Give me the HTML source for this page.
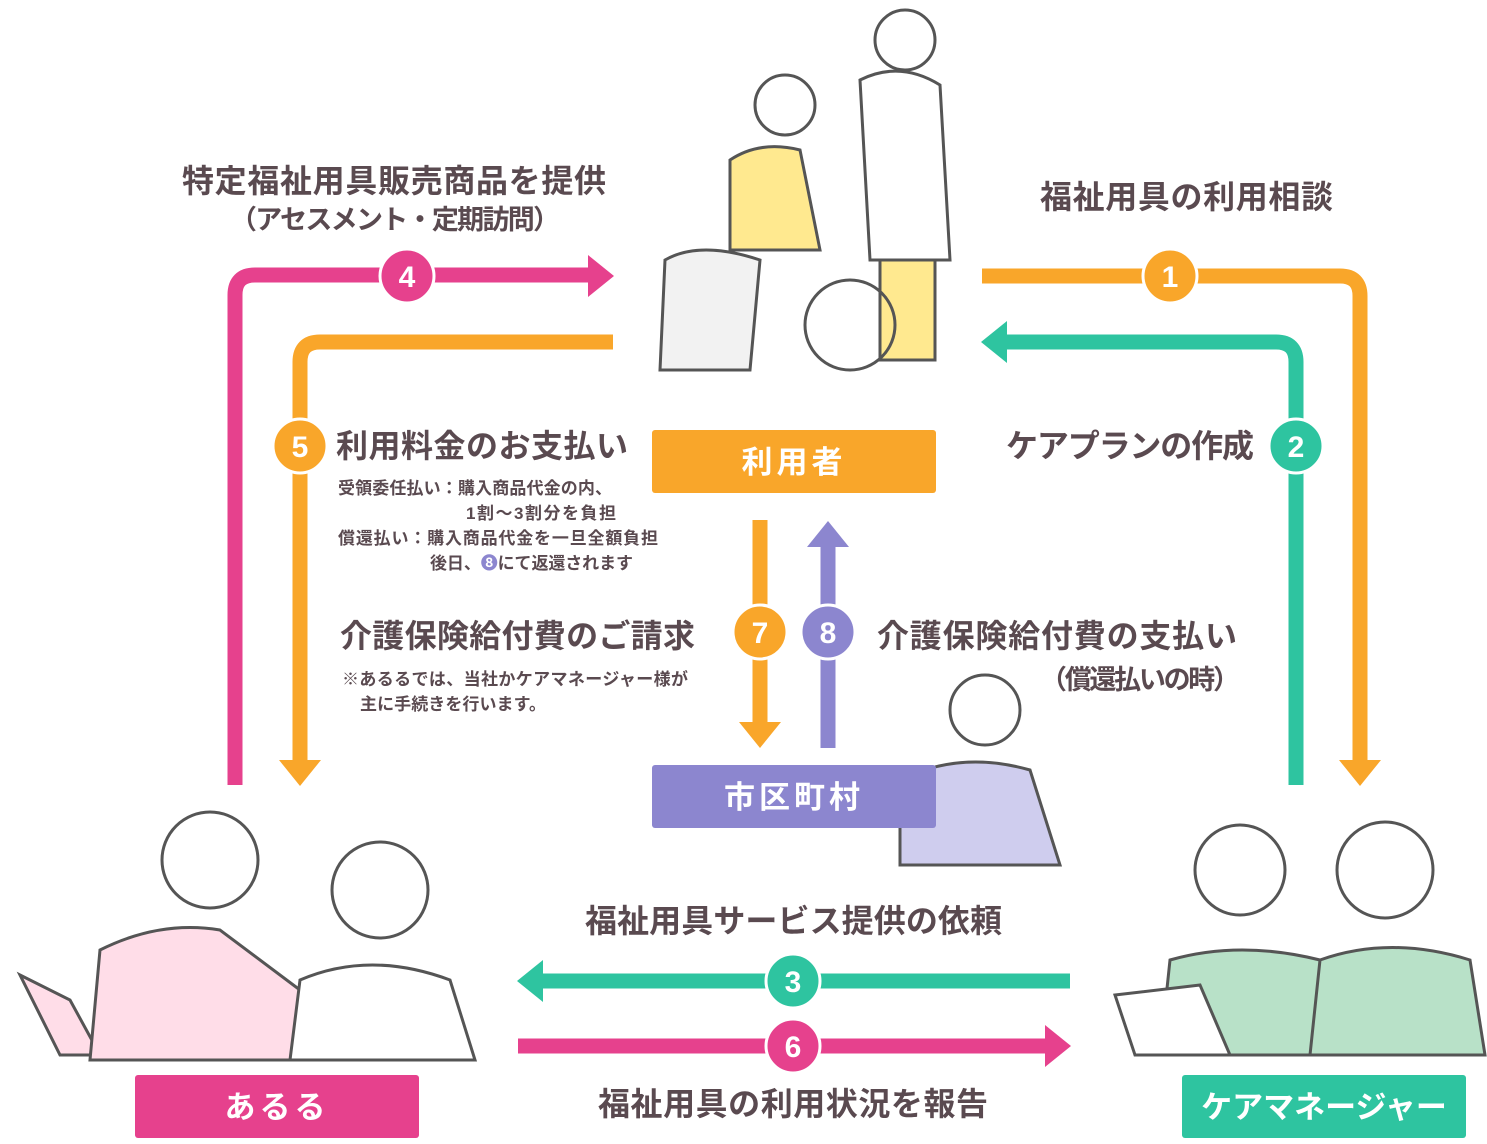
<!DOCTYPE html>
<html><head><meta charset="utf-8"><style>
html,body{margin:0;padding:0;background:#fff}
svg text{font-family:"Liberation Sans","Noto Sans CJK JP",sans-serif;font-weight:bold}
</style></head><body>
<svg width="1487" height="1139" viewBox="0 0 1487 1139" xmlns="http://www.w3.org/2000/svg">
<g fill="none" stroke-width="15" stroke-linejoin="round">
<path d="M235 785 V295 Q235 275 255 275 H590" stroke="#E6418D"/>
<path d="M613 342 H320 Q300 342 300 362 V762" stroke="#F9A62A"/>
<path d="M982 276 H1340 Q1360 276 1360 296 V762" stroke="#F9A62A"/>
<path d="M1296 785 V362 Q1296 342 1276 342 H1005" stroke="#2EC4A0"/>
<path d="M1070 981 H540" stroke="#2EC4A0"/>
<path d="M518 1046 H1048" stroke="#E6418D"/>
<path d="M760 520 V724" stroke="#F9A62A"/>
<path d="M828 748 V545" stroke="#8C86CF"/>
</g>
<polygon points="588,255 614,276 588,297" fill="#E6418D"/>
<polygon points="279,760 321,760 300,786" fill="#F9A62A"/>
<polygon points="1339,760 1381,760 1360,786" fill="#F9A62A"/>
<polygon points="1007,321 1007,363 981,342" fill="#2EC4A0"/>
<polygon points="543,960 543,1002 517,981" fill="#2EC4A0"/>
<polygon points="1045,1025 1045,1067 1071,1046" fill="#E6418D"/>
<polygon points="739,722 781,722 760,748" fill="#F9A62A"/>
<polygon points="807,547 849,547 828,521" fill="#8C86CF"/>
<g font-size="30" fill="#fff" text-anchor="middle">
<circle cx="407" cy="276" r="27" fill="#E6418D" stroke="#fff" stroke-width="3"/><text x="407" y="287">4</text>
<circle cx="300" cy="446" r="27" fill="#F9A62A" stroke="#fff" stroke-width="3"/><text x="300" y="457">5</text>
<circle cx="1170" cy="276" r="27" fill="#F9A62A" stroke="#fff" stroke-width="3"/><text x="1170" y="287">1</text>
<circle cx="1296" cy="446" r="27" fill="#2EC4A0" stroke="#fff" stroke-width="3"/><text x="1296" y="457">2</text>
<circle cx="793" cy="981" r="27" fill="#2EC4A0" stroke="#fff" stroke-width="3"/><text x="793" y="992">3</text>
<circle cx="793" cy="1046" r="27" fill="#E6418D" stroke="#fff" stroke-width="3"/><text x="793" y="1057">6</text>
<circle cx="760" cy="632" r="27" fill="#F9A62A" stroke="#fff" stroke-width="3"/><text x="760" y="643">7</text>
<circle cx="828" cy="632" r="27" fill="#8C86CF" stroke="#fff" stroke-width="3"/><text x="828" y="643">8</text>
</g>
<!-- simple illustrations -->
<g stroke="#555" stroke-width="3">
<path d="M730 160 Q760 140 800 150 L820 250 L730 250 Z" fill="#FFE98F"/>
<circle cx="785" cy="105" r="30" fill="#fff"/>
<path d="M860 80 Q900 60 940 85 L950 260 L870 260 Z" fill="#fff"/>
<rect x="880" y="260" width="55" height="100" fill="#FFE98F"/>
<circle cx="905" cy="40" r="30" fill="#fff"/>
<circle cx="850" cy="325" r="45" fill="none"/>
<path d="M665 260 Q700 240 760 260 L750 370 L660 370 Z" fill="#f2f2f2"/>
<path d="M20 975 L70 1000 L100 1055 L60 1055 Z" fill="#FFDDE8"/>
<path d="M100 950 Q160 920 220 930 L300 990 L310 1060 L90 1060 Z" fill="#FFDDE8"/>
<circle cx="210" cy="860" r="48" fill="#fff"/>
<path d="M300 980 Q370 950 450 980 L475 1060 L290 1060 Z" fill="#fff"/>
<circle cx="380" cy="890" r="48" fill="#fff"/>
<path d="M1170 960 Q1240 940 1320 960 L1335 1055 L1160 1055 Z" fill="#B8E1C8"/>
<circle cx="1240" cy="870" r="45" fill="#fff"/>
<path d="M1320 960 Q1390 935 1470 960 L1485 1055 L1310 1055 Z" fill="#B8E1C8"/>
<circle cx="1385" cy="870" r="48" fill="#fff"/>
<path d="M1115 995 L1200 985 L1230 1055 L1135 1055 Z" fill="#fff"/>
<path d="M900 780 Q960 750 1030 770 L1060 865 L900 865 Z" fill="#CFCDEE"/>
<circle cx="985" cy="710" r="35" fill="#fff"/>
</g>
<rect x="652" y="430" width="284" height="63" rx="3" fill="#F9A62A"/>
<rect x="652" y="765" width="284" height="63" rx="3" fill="#8C86CF"/>
<rect x="135" y="1075" width="284" height="63" rx="3" fill="#E6418D"/>
<rect x="1182" y="1075" width="284" height="63" rx="3" fill="#2EC4A0"/>
<g font-size="31" fill="#fff" text-anchor="middle" letter-spacing="4">
<text x="794" y="473">利用者</text>
<text x="794" y="808">市区町村</text>
<text x="277" y="1118">あるる</text>
<text x="1324" y="1118" letter-spacing="0">ケアマネージャー</text>
</g>
<g fill="#5A4A50">
<text x="182" y="192" font-size="32" textLength="424">特定福祉用具販売商品を提供</text>
<text x="230" y="229" font-size="27" textLength="330">（アセスメント・定期訪問）</text>
<text x="1040" y="208" font-size="32" textLength="293">福祉用具の利用相談</text>
<text x="1006" y="457" font-size="32" textLength="248">ケアプランの作成</text>
<text x="336" y="457" font-size="32" textLength="292">利用料金のお支払い</text>
<text x="338" y="494" font-size="17" textLength="274">受領委任払い：購入商品代金の内、</text>
<text x="466" y="519" font-size="17" textLength="150">1割〜3割分を負担</text>
<text x="338" y="544" font-size="17" textLength="320">償還払い：購入商品代金を一旦全額負担</text>
<text x="430" y="569" font-size="17" textLength="203">後日、<tspan fill="#8C86CF">❽</tspan>にて返還されます</text>
<text x="340" y="647" font-size="32" textLength="355">介護保険給付費のご請求</text>
<text x="342" y="685" font-size="17" textLength="346">※あるるでは、当社かケアマネージャー様が</text>
<text x="360" y="710" font-size="17" textLength="186">主に手続きを行います。</text>
<text x="877" y="647" font-size="32" textLength="360">介護保険給付費の支払い</text>
<text x="1040" y="689" font-size="27" textLength="200">（償還払いの時）</text>
<text x="585" y="932" font-size="32" textLength="417">福祉用具サービス提供の依頼</text>
<text x="598" y="1115" font-size="32" textLength="390">福祉用具の利用状況を報告</text>
</g>
</svg>
</body></html>
